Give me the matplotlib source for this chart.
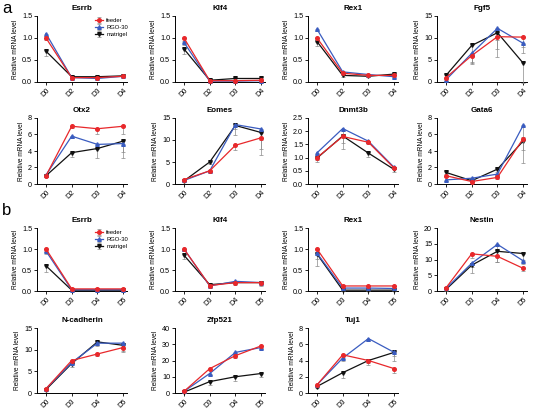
import matplotlib
matplotlib.use('Agg')
import matplotlib.pyplot as plt
import numpy as np

plt.rcParams['font.family'] = ['Liberation Sans', 'DejaVu Sans']

series_names = ['feeder', 'RGO-30', 'matrigel']
colors = ['#e8282b', '#3a5cc0', '#111111']
markers = ['o', '^', 'v']

# panel a
days_a = ['D0', 'D2', 'D3', 'D4']
genes_a = ['Esrrb', 'Klf4', 'Rex1', 'Fgf5', 'Otx2', 'Eomes', 'Dnmt3b', 'Gata6']
ymax_a = [1.5, 1.5, 1.5, 15, 8, 15, 2.5, 8]
feeder_a = [[1.0, 0.1, 0.1, 0.13], [1.0, 0.03, 0.03, 0.04], [1.0, 0.2, 0.15, 0.15],
            [1.0, 6.0, 10.3, 10.2], [1.0, 7.0, 6.7, 7.0], [1.0, 3.0, 8.8, 10.5],
            [1.0, 1.8, 1.58, 0.6], [1.0, 0.3, 0.8, 5.5]]
rgo_a = [[1.1, 0.1, 0.08, 0.13], [0.9, 0.02, 0.02, 0.03], [1.2, 0.23, 0.17, 0.12],
         [0.5, 6.5, 12.2, 8.8], [1.1, 5.8, 4.8, 4.9], [0.8, 3.0, 13.5, 12.5],
         [1.18, 2.1, 1.62, 0.63], [0.5, 0.7, 1.2, 7.1]]
matrigel_a = [[0.7, 0.12, 0.12, 0.14], [0.75, 0.04, 0.08, 0.08], [0.92, 0.15, 0.13, 0.18],
              [1.5, 8.3, 11.2, 4.3], [1.0, 3.8, 4.3, 5.2], [0.7, 5.0, 13.3, 11.7],
              [0.98, 1.82, 1.17, 0.55], [1.4, 0.4, 1.8, 5.2]]
err_a = [[0.1, 0.02, 0.02, 0.02], [0.12, 0.01, 0.02, 0.02], [0.1, 0.03, 0.02, 0.03],
         [0.5, 4.0, 5.5, 4.5], [0.2, 0.5, 1.2, 2.0], [0.2, 0.5, 2.2, 5.0],
         [0.15, 0.5, 0.15, 0.08], [0.2, 0.2, 0.3, 2.7]]

# panel b
days_b = ['D0', 'D3', 'D4', 'D5']
genes_b = ['Esrrb', 'Klf4', 'Rex1', 'Nestin', 'N-cadherin', 'Zfp521', 'Tuj1']
ymax_b = [1.5, 1.5, 1.5, 20, 15, 40, 8]
feeder_b = [[1.0, 0.05, 0.05, 0.05], [1.0, 0.13, 0.2, 0.2], [1.0, 0.12, 0.12, 0.12],
            [1.0, 11.8, 11.0, 7.2], [1.0, 7.5, 9.0, 10.5], [1.0, 15.0, 23.0, 29.0],
            [1.0, 4.7, 4.0, 3.0]]
rgo_b = [[0.95, 0.03, 0.03, 0.03], [1.0, 0.12, 0.23, 0.2], [0.9, 0.07, 0.07, 0.06],
         [0.8, 8.8, 14.8, 9.6], [1.0, 7.0, 11.5, 11.5], [1.0, 12.0, 25.0, 28.0],
         [1.0, 4.3, 6.7, 5.0]]
matrigel_b = [[0.6, 0.02, 0.02, 0.02], [0.85, 0.15, 0.2, 0.2], [0.88, 0.02, 0.02, 0.02],
              [0.5, 8.2, 12.6, 11.9], [0.8, 6.8, 11.8, 11.0], [0.5, 7.0, 10.0, 12.0],
              [0.8, 2.5, 4.0, 5.0]]
err_b = [[0.15, 0.01, 0.01, 0.01], [0.08, 0.03, 0.05, 0.08], [0.28, 0.02, 0.02, 0.02],
         [0.5, 2.5, 3.5, 2.0], [0.3, 0.8, 1.0, 1.5], [0.5, 2.0, 2.5, 2.0],
         [0.2, 0.6, 0.6, 1.0]]

W, H = 540, 411
fig = plt.figure(figsize=(W / 100, H / 100), dpi=100)

col_left = [37, 175, 308, 437]
ax_w = 90
rows_a = [(16, 82), (118, 184)]
rows_b = [(228, 291), (328, 393)]


def make_ax(col, top, bot):
    return fig.add_axes([col_left[col] / W, 1 - bot / H, ax_w / W, (bot - top) / H])


def draw(ax, title, days, ymax, vals, err, legend):
    x = np.arange(len(days))
    for k in range(3):
        e = np.array(err) if k == 2 else np.array(err) * 0.5
        ax.errorbar(x, vals[k], yerr=[e, np.zeros_like(e)], color=colors[k],
                    ecolor='#8a8a8a', elinewidth=0.5, capsize=1.5, capthick=0.5,
                    marker=markers[k], markersize=2.6, linewidth=0.9,
                    label=series_names[k], clip_on=False, zorder=3 - k * 0.1)
    ax.set_xlim(-0.35, 3.15)
    ax.set_ylim(0, ymax)
    if ymax == 1.5:
        ticks = [0, 0.5, 1.0, 1.5]
        labels = ['0.0', '0.5', '1.0', '1.5']
    elif ymax == 2.5:
        ticks = [0, 0.5, 1.0, 1.5, 2.0, 2.5]
        labels = ['0.0', '0.5', '1.0', '1.5', '2.0', '2.5']
    elif ymax == 8:
        ticks = [0, 2, 4, 6, 8]
        labels = [str(t) for t in ticks]
    elif ymax == 40:
        ticks = [0, 10, 20, 30, 40]
        labels = [str(t) for t in ticks]
    else:
        ticks = list(range(0, int(ymax) + 1, 5))
        labels = [str(t) for t in ticks]
    ax.set_yticks(ticks)
    ax.set_yticklabels(labels)
    ax.set_xticks(x)
    ax.set_xticklabels(days, rotation=45, ha='right', rotation_mode='anchor')
    ax.tick_params(labelsize=5.2, length=2, width=0.6, pad=1.5)
    for s in ['top', 'right']:
        ax.spines[s].set_visible(False)
    for s in ['left', 'bottom']:
        ax.spines[s].set_linewidth(0.7)
    ax.set_title(title, fontsize=5.8, fontweight='bold', pad=4)
    ax.set_ylabel('Relative mRNA level', fontsize=4.7, labelpad=2)
    if legend:
        ax.legend(loc='upper right', bbox_to_anchor=(1.05, 1.02), fontsize=4.2,
                  frameon=False, handlelength=1.5, handletextpad=0.5,
                  labelspacing=0.3, borderaxespad=0.2)


for i, g in enumerate(genes_a):
    top, bot = rows_a[i // 4]
    ax = make_ax(i % 4, top, bot)
    draw(ax, g, days_a, ymax_a[i], [feeder_a[i], rgo_a[i], matrigel_a[i]], err_a[i], i == 0)

for i, g in enumerate(genes_b):
    top, bot = rows_b[i // 4]
    ax = make_ax(i % 4, top, bot)
    draw(ax, g, days_b, ymax_b[i], [feeder_b[i], rgo_b[i], matrigel_b[i]], err_b[i], i == 0)

fig.text(2 / W, 1 - 1 / H, 'a', fontsize=12, va='top', ha='left')
fig.text(2 / W, 1 - 203 / H, 'b', fontsize=12, va='top', ha='left')

fig.savefig('out.png', dpi=100, facecolor='white')
